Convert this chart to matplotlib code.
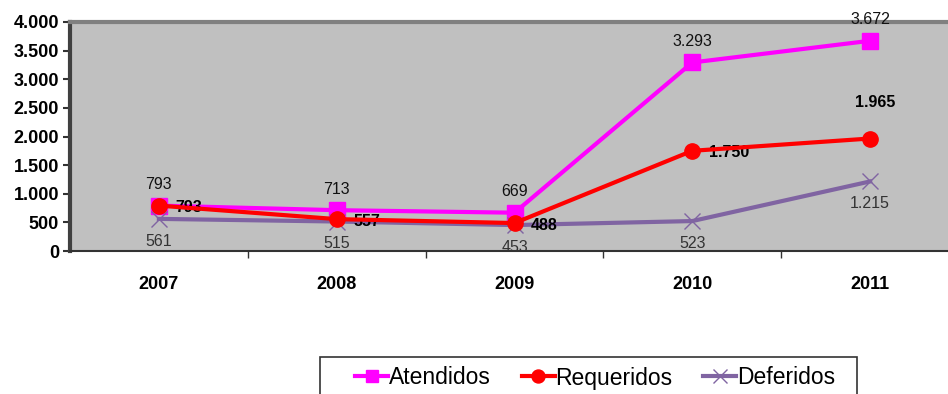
import matplotlib.pyplot as plt
from matplotlib.patches import Rectangle
from matplotlib.ticker import FuncFormatter

plt.rcParams['font.family'] = ['Liberation Sans', 'DejaVu Sans']

years = ['2007', '2008', '2009', '2010', '2011']
atendidos = [793, 713, 669, 3293, 3672]
requeridos = [793, 557, 488, 1750, 1965]
deferidos = [561, 515, 453, 523, 1215]


def fmt(v):
    return f'{v:,}'.replace(',', '.')


W, H = 948, 394
fig = plt.figure(figsize=(W / 100, H / 100), dpi=100)
# plot area runs slightly past the right edge of the figure
ax = fig.add_axes([70 / W, 1 - 251 / H, 889 / W, 229 / H])
ax.set_facecolor('#C0C0C0')

x = list(range(len(years)))
ax.plot(x, deferidos, color='#8064A2', lw=3, marker='x', ms=12, mew=1,
        label='Deferidos', zorder=3)
ax.plot(x, requeridos, color='#FF0000', lw=3, marker='o', ms=11,
        label='Requeridos', zorder=4)
ax.plot(x, atendidos, color='#FF00FF', lw=3, marker='s', ms=11,
        label='Atendidos', zorder=2)

for i, v in enumerate(atendidos):
    ax.annotate(fmt(v), (i, v), xytext=(0, 15), textcoords='offset points',
                ha='center', va='center', fontsize=11.5, color='#111111')
for i, v in enumerate(requeridos):
    if i == len(requeridos) - 1:
        ax.annotate(fmt(v), (i, v), xytext=(4, 26), textcoords='offset points',
                    ha='center', va='center', fontsize=11.5, fontweight='bold')
    else:
        ax.annotate(fmt(v), (i, v), xytext=(12, -1.5), textcoords='offset points',
                    ha='left', va='center', fontsize=11.5, fontweight='bold')
for i, v in enumerate(deferidos):
    ax.annotate(fmt(v), (i, v), xytext=(0, -16), textcoords='offset points',
                ha='center', va='center', fontsize=11.5, color='#333333')

ax.set_xlim(-0.5, len(years) - 0.5)
ax.set_ylim(0, 4000)
ax.set_yticks(range(0, 4001, 500))
ax.yaxis.set_major_formatter(FuncFormatter(lambda v, p: fmt(int(v))))
ax.set_xticks(x)
ax.set_xticklabels(years)
ax.set_xticks([i + 0.5 for i in x[:-1]], minor=True)
ax.tick_params(axis='x', which='major', length=0, pad=18)
ax.tick_params(axis='x', which='minor', length=5, width=1, color='#333333')
ax.tick_params(axis='y', length=5, width=1.5, color='#333333', pad=3)
for lab in ax.get_xticklabels() + ax.get_yticklabels():
    lab.set_fontweight('bold')
    lab.set_fontsize(13)

ax.spines['left'].set_linewidth(3)
ax.spines['left'].set_color('#404040')
ax.spines['bottom'].set_linewidth(1.5)
ax.spines['bottom'].set_color('#333333')
ax.spines['top'].set_linewidth(3)
ax.spines['top'].set_color('#808080')
ax.spines['right'].set_visible(False)

# legend box, open at the bottom edge of the figure
fig.patches.append(Rectangle((320 / W, -0.05), 537 / W, 0.05 + 1 - 357 / H,
                             transform=fig.transFigure, fill=False,
                             edgecolor='#333333', linewidth=1.2))

handles, labels = ax.get_legend_handles_labels()
order = [2, 1, 0]
fig.legend([handles[k] for k in order], [labels[k] for k in order],
           loc='center left', bbox_to_anchor=(355 / W, 1 - 378 / H),
           ncol=3, frameon=False, fontsize=16.5, handlelength=1.45,
           handletextpad=0.02, columnspacing=1.35, borderpad=0,
           borderaxespad=0, markerscale=0.85)

fig.savefig('out.png', dpi=100)
